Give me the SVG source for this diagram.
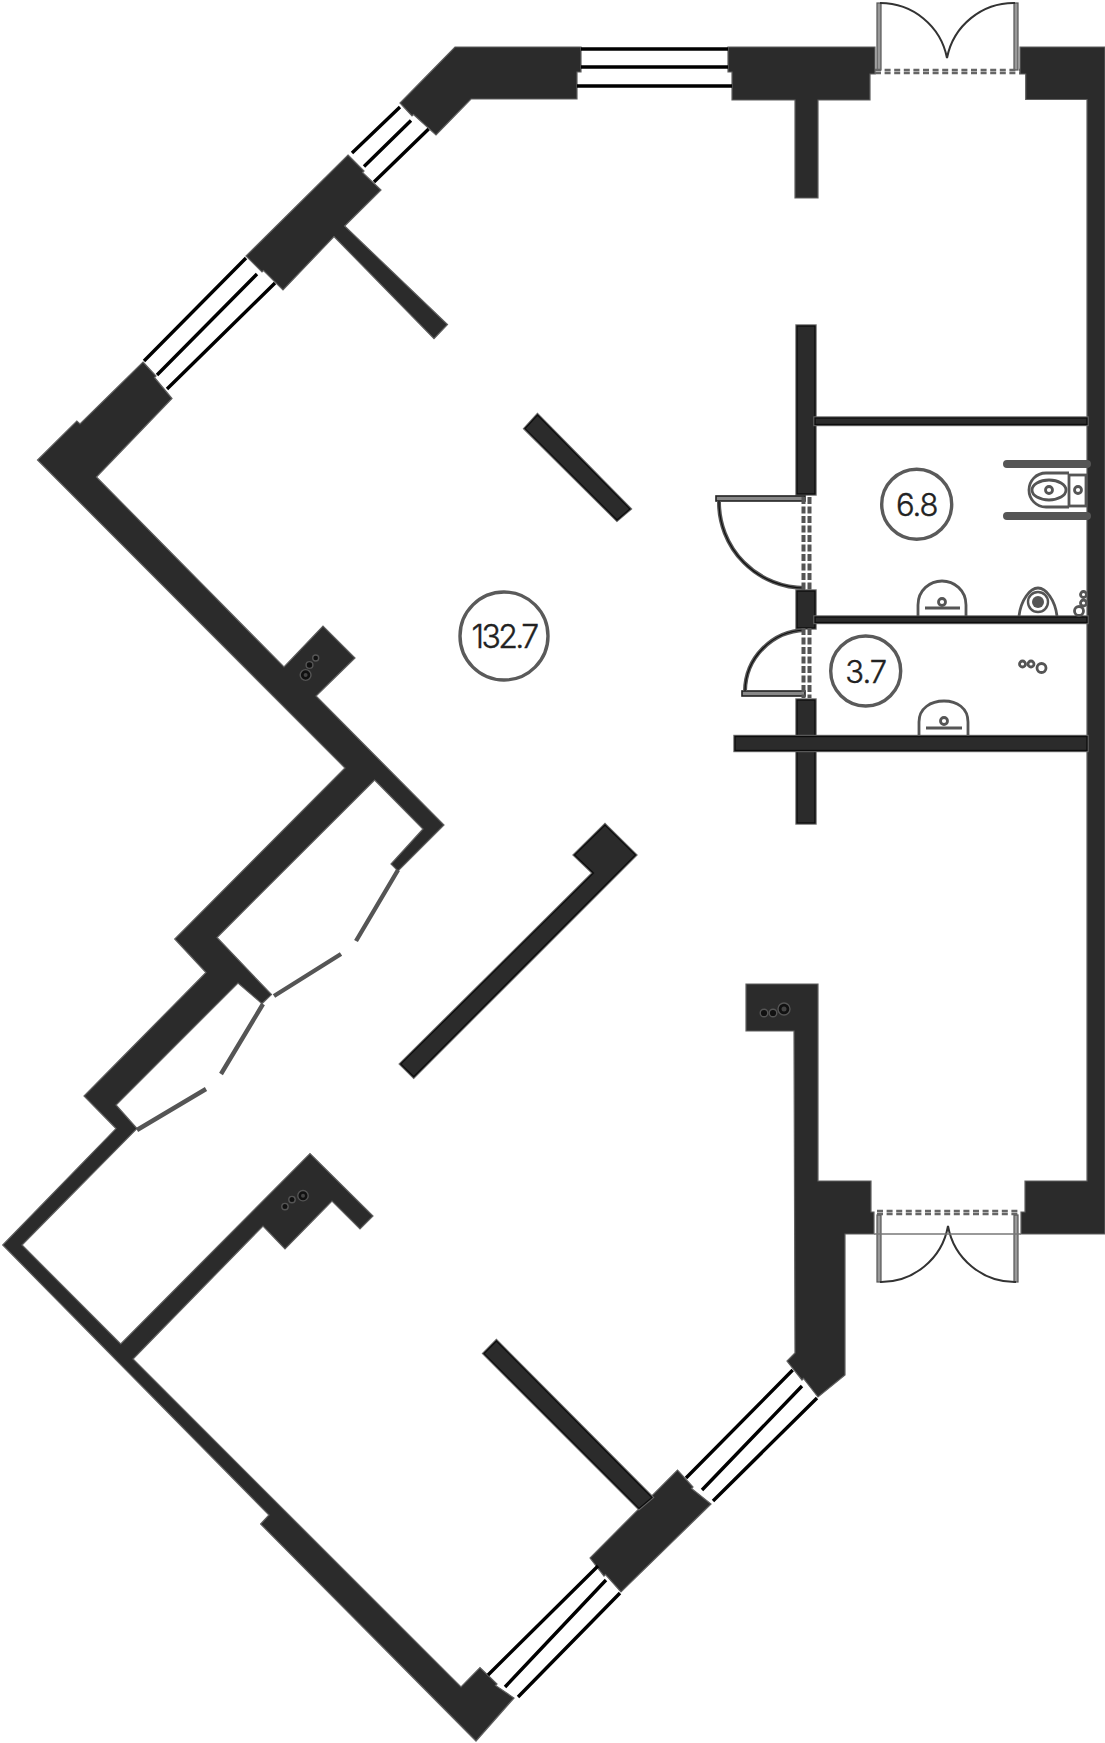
<svg xmlns="http://www.w3.org/2000/svg" width="1105" height="1743" viewBox="0 0 1105 1743">
<style>
.w{fill:#2b2b2b;stroke:#5f5f5f;stroke-width:1.2;stroke-linejoin:miter}
.p{fill:#2b2b2b;stroke:#666;stroke-width:3.4;paint-order:stroke;stroke-linejoin:miter}
.pl{fill:none;stroke:#0c0c0c;stroke-width:1.3}
.ln{fill:none;stroke:#000;stroke-width:3.4}
.leaf{fill:none;stroke:#555;stroke-width:4.4}
.fx{fill:none;stroke:#555;stroke-width:2.8}
.arc{fill:none;stroke:#333;stroke-width:2}
.jamb{fill:#999;stroke:#555;stroke-width:1.2}
.jd{fill:#888;stroke:#222;stroke-width:1.6}
.dash{fill:none;stroke:#666;stroke-width:2.4;stroke-dasharray:6 3.6}
.rc{fill:#fff;stroke:#5a5a5a;stroke-width:3.4}
.t{font-family:"Inter","Liberation Sans",sans-serif;font-weight:300;fill:#222;stroke:#222;stroke-width:.4;text-anchor:middle}
.hole{fill:#111;stroke:#555;stroke-width:1.4}
.ring{fill:none;stroke:#111;stroke-width:2}
</style>
<defs>
<polygon id="s1" points="652,1497.5 639,1508.4 484,1353.6 496.4,1341"/>
<polygon id="s2" points="605,825 635.5,855 413.7,1076.8 400.7,1064 593.4,873 574.5,855"/>
<polygon id="s3" points="537.5,415 525,428.6 617,520 630,509"/>
<rect id="r1" x="797" y="326" width="18" height="168"/>
<rect id="r2" x="797" y="591" width="18" height="37"/>
<rect id="r3" x="797" y="700" width="18" height="123"/>
<rect id="r4" x="735" y="736.5" width="352" height="14"/>
<rect id="r5" x="815" y="418" width="272" height="6.5"/>
<rect id="r6" x="815" y="617" width="272" height="5.5"/>
</defs>
<rect width="1105" height="1743" fill="#fff"/>
<g id="walls">
<polygon class="w" points="455,47 581,47 581,72 577,72 577,99 471,99 436,135 413.5,114.5 412,116 400,103"/>
<polygon class="w" points="348,155 364,171 362.5,172.5 381,190 344.6,226 447.5,324.5 434,338.7 334,236.5 283,290 263.5,270.5 262,272 246,256"/>
<polygon class="w" points="143,362 156,376 154.5,377.5 172,398.5 96.4,477 284,667 323,626 355,658 316,696 444,825 398,871 391,864 423,829 374.6,780 217,937.5 271.5,994.6 262,1003.6 238,983 116,1105 137,1128.6 22,1245 120.7,1344 310,1153.5 373,1216 360,1229 332,1201 285,1249 263,1226 133,1359 461,1687 480,1667.5 497,1684 495.5,1685.5 514,1698 476,1741 260.6,1524 269,1515 2.7,1245 116,1128.6 84,1096 206,972.5 174.7,939 345,768 37.5,460 76.8,421 80,424"/>
<polygon class="w" points="728,47 875,47 875,74 870,74 870,100 818,100 818,198 795,198 795,100 732,100 732,72 728,72"/>
<polygon class="w" points="1020,47 1105,47 1105,1234 1021,1234 1021,1212 1025,1212 1025,1181 1087,1181 1087,99.5 1025.7,99.5 1025.7,74 1020,74"/>
<polygon class="w" points="746,984 818,984 818,1181 871,1181 871,1212 874,1212 874,1234 845,1234 845,1375 818,1397 803.5,1378.5 802,1380 787,1361 795,1353 794,1031 746,1031"/>
<polygon class="w" points="590,1558 604,1576 605.5,1574.5 621,1592 711,1504 691.5,1488.5 693,1487 677.5,1470"/>
<use href="#s1" class="p"/><use href="#s1" class="pl"/>
<use href="#s2" class="p"/><use href="#s2" class="pl"/>
<use href="#s3" class="p"/><use href="#s3" class="pl"/>
<use href="#r1" class="p"/><use href="#r1" class="pl"/>
<use href="#r2" class="p"/><use href="#r2" class="pl"/>
<use href="#r3" class="p"/><use href="#r3" class="pl"/>
<use href="#r4" class="p"/><use href="#r4" class="pl"/>
<use href="#r5" class="p"/><use href="#r5" class="pl"/>
<use href="#r6" class="p"/><use href="#r6" class="pl"/>
</g>
<g id="windows">
<path class="ln" d="M144 361L246 258M157 375L257 274M167 389L275 283"/>
<path class="ln" d="M352 153L400 107M364 166.5L411 120.5M374 182L428.6 129"/>
<path class="ln" d="M686 1478L792.7 1370M702 1490L802 1386M713 1501L817 1398"/>
<path class="ln" d="M488 1675L598 1566M505 1687L606 1580M518 1697L620 1593"/>
<path class="ln" d="M581 49H728M581 67H728M577 86H732"/>
</g>
<g id="doors">
<path class="leaf" d="M398 870L356 941M341 954L274 996M263 1004L221 1074M206 1089L137 1130"/>
<rect class="jamb" x="877" y="3" width="4" height="67"/>
<rect class="jamb" x="1014" y="3" width="4" height="67"/>
<path class="arc" d="M880 3A68 68 0 0 1 947 58M1015 3A68 68 0 0 0 947 58"/>
<path class="dash" d="M875 70H1020M875 73H1020"/>
<rect class="jamb" x="877" y="1215" width="4" height="67"/>
<rect class="jamb" x="1014" y="1215" width="4" height="67"/>
<path class="arc" d="M880 1282A68 68 0 0 0 948 1226A68 68 0 0 0 1016 1282"/>
<path d="M874 1234H1021" fill="none" stroke="#777" stroke-width="1.4"/>
<path class="dash" d="M877 1211H1020M877 1214H1020"/>
<rect class="jd" x="716" y="496" width="89" height="5"/>
<path d="M719 501A86 86 0 0 0 805 588" fill="none" stroke="#555" stroke-width="4"/>
<path d="M719 501A86 86 0 0 0 805 588" fill="none" stroke="#111" stroke-width="1.2"/>
<rect class="jd" x="742" y="691" width="63" height="5"/>
<path d="M745 691A62 62 0 0 1 805 630" fill="none" stroke="#555" stroke-width="4"/>
<path d="M745 691A62 62 0 0 1 805 630" fill="none" stroke="#111" stroke-width="1.2"/>
<path d="M803.5 497V590M809.5 497V590M803.5 628V698M809.5 628V698" fill="none" stroke="#555" stroke-width="4" stroke-dasharray="7 2.5"/>
</g>
<g id="fixtures">
<path d="M1007 464H1087M1007 516H1087" fill="none" stroke="#555" stroke-width="8" stroke-linecap="round"/>
<rect class="fx" x="1069" y="475" width="17" height="31"/>
<path class="fx" d="M1069 473H1046C1036 473 1029 481 1029 490S1036 507 1046 507H1069" stroke-width="3.4"/>
<ellipse class="fx" cx="1049" cy="490" rx="17" ry="10"/>
<circle class="fx" cx="1049" cy="490" r="3.5"/>
<circle class="fx" cx="1078" cy="490" r="3.5"/>
<path class="fx" d="M918 616V605C918 590 930 581 942 581S966 590 966 605V616" stroke-width="4.5"/>
<path class="fx" d="M925 608H960"/>
<circle class="fx" cx="942" cy="602" r="3.5"/>
<path class="fx" d="M1019 616C1021 600 1030 588 1038 588S1055 600 1057 616" stroke-width="3.6"/>
<circle cx="1038" cy="602" r="10" fill="#fff" stroke="#555" stroke-width="2.4"/>
<circle cx="1038" cy="602" r="6" fill="#555"/>
<path class="fx" d="M919 735V722C919 708 931 701 944 701S968 708 968 722V735" stroke-width="4.5"/>
<path class="fx" d="M926 728H962"/>
<circle class="fx" cx="944" cy="721" r="3.5"/>
</g>
<g id="risers">
<circle class="fx" cx="1083.5" cy="594.5" r="3"/><circle class="fx" cx="1083.5" cy="603" r="3"/><circle class="fx" cx="1079" cy="611" r="4.5"/>
<circle class="fx" cx="1022.5" cy="664" r="3"/><circle class="fx" cx="1031" cy="664" r="3"/><circle class="fx" cx="1041.5" cy="668" r="4.5"/>
<circle class="hole" cx="315.7" cy="658" r="3"/><circle class="hole" cx="309.5" cy="665" r="3.4"/><circle class="hole" cx="305.6" cy="675" r="5.4"/><circle cx="305.6" cy="675" r="2" fill="#444"/>
<circle class="hole" cx="764" cy="1013" r="3.8"/><circle class="hole" cx="773" cy="1013" r="3.8"/><circle class="hole" cx="784" cy="1009" r="6"/><circle cx="784" cy="1009" r="2.5" fill="#444"/>
<circle class="hole" cx="285" cy="1206.6" r="3.2"/><circle class="hole" cx="292" cy="1199.6" r="3.2"/><circle class="hole" cx="303" cy="1195.7" r="5.2"/><circle cx="303" cy="1195.7" r="2" fill="#444"/>
</g>
<g id="room-132"><circle class="rc" cx="504" cy="636" r="44"/><text class="t" x="504" y="648" font-size="32" letter-spacing="-2.6">132.7</text></g>
<g id="room-6-8"><circle class="rc" cx="916.7" cy="504.3" r="35"/><text class="t" x="916.7" y="516" font-size="31" letter-spacing="-1">6.8</text></g>
<g id="room-3-7"><circle class="rc" cx="865.7" cy="671" r="35"/><text class="t" x="865.7" y="683" font-size="31" letter-spacing="-1">3.7</text></g>
</svg>
